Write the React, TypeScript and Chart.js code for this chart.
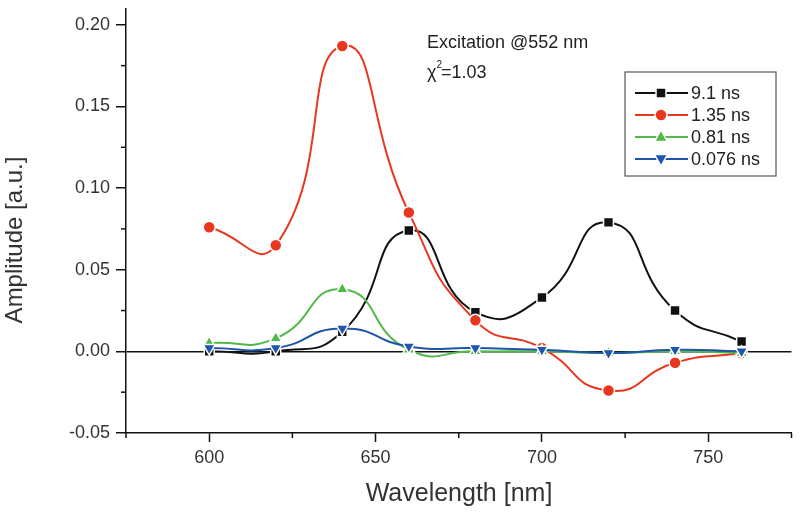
import React, { useEffect, useRef } from 'react';
import { Chart, registerables } from 'chart.js';

Chart.register(...registerables);

// ---- data ----
const wavelengths = [600, 620, 640, 660, 680, 700, 720, 740, 760];
const amp91 = [0.000, 0.000, 0.012, 0.074, 0.024, 0.033, 0.079, 0.025, 0.006];
const amp135 = [0.076, 0.065, 0.187, 0.085, 0.019, 0.002, -0.024, -0.007, -0.001];
const amp081 = [0.005, 0.008, 0.038, 0.001, 0.000, 0.000, -0.001, 0.000, -0.001];
const amp0076 = [0.002, 0.002, 0.014, 0.003, 0.002, 0.001, -0.001, 0.001, 0.000];
const seriesLabels = ['9.1 ns', '1.35 ns', '0.81 ns', '0.076 ns'];
const xTickValues = [600, 650, 700, 750];
const yTickValues = [-0.05, 0, 0.05, 0.1, 0.15, 0.2];
const xMinorTicks = [575, 625, 675, 725, 775];
const yMinorTicks = [-0.025, 0.025, 0.075, 0.125, 0.175];
const xTitle = 'Wavelength [nm]';
const yTitle = 'Amplitude [a.u.]';
const annotationLine1 = 'Excitation @552 nm';
const annotationChi = 'χ';
const annotationSup = '2';
const annotationRest = '=1.03';

const FONT = "'Liberation Sans', Arial, sans-serif";
const colors = ['#111111', '#e8361f', '#52b848', '#1f55aa'];
const styles = ['rect', 'circle', 'triangle', 'triangleDown'];

function drawMarker(ctx: CanvasRenderingContext2D, style: string, x: number, y: number, color: string) {
  ctx.save();
  ctx.fillStyle = color;
  ctx.strokeStyle = '#ffffff';
  ctx.lineWidth = 1.5;
  ctx.beginPath();
  if (style === 'rect') {
    ctx.rect(x - 5, y - 5, 10, 10);
  } else if (style === 'circle') {
    ctx.arc(x, y, 6, 0, Math.PI * 2);
  } else if (style === 'triangle') {
    ctx.moveTo(x, y - 7);
    ctx.lineTo(x + 6.5, y + 4.5);
    ctx.lineTo(x - 6.5, y + 4.5);
    ctx.closePath();
  } else {
    ctx.moveTo(x, y + 7);
    ctx.lineTo(x + 6.5, y - 4.5);
    ctx.lineTo(x - 6.5, y - 4.5);
    ctx.closePath();
  }
  ctx.fill();
  ctx.stroke();
  ctx.restore();
}

const overlayPlugin = {
  id: 'overlay',
  afterDraw(chart: any) {
    const ctx: CanvasRenderingContext2D = chart.ctx;
    const xs = chart.scales.x;
    const ys = chart.scales.y;
    const area = chart.chartArea;
    ctx.save();
    // minor ticks
    ctx.strokeStyle = '#111';
    ctx.lineWidth = 1.5;
    xMinorTicks.forEach((v) => {
      const px = xs.getPixelForValue(v);
      ctx.beginPath();
      ctx.moveTo(px, area.bottom);
      ctx.lineTo(px, area.bottom + 5);
      ctx.stroke();
    });
    yMinorTicks.forEach((v) => {
      const py = ys.getPixelForValue(v);
      ctx.beginPath();
      ctx.moveTo(area.left - 5, py);
      ctx.lineTo(area.left, py);
      ctx.stroke();
    });

    // axis titles
    ctx.fillStyle = '#333';
    ctx.textAlign = 'center';
    ctx.textBaseline = 'middle';
    ctx.font = `25px ${FONT}`;
    ctx.fillText(xTitle, 459, 494);
    ctx.save();
    ctx.translate(15, 240);
    ctx.rotate(-Math.PI / 2);
    ctx.font = `24px ${FONT}`;
    ctx.fillText(yTitle, 0, 0);
    ctx.restore();

    // annotation
    ctx.fillStyle = '#222';
    ctx.textAlign = 'left';
    ctx.textBaseline = 'alphabetic';
    ctx.font = `18px ${FONT}`;
    ctx.fillText(annotationLine1, 427, 48);
    let ax = 427;
    ctx.fillText(annotationChi, ax, 78);
    ax += ctx.measureText(annotationChi).width;
    ctx.font = `10px ${FONT}`;
    ctx.fillText(annotationSup, ax, 68);
    ax += ctx.measureText(annotationSup).width - 1;
    ctx.font = `18px ${FONT}`;
    ctx.fillText(annotationRest, ax, 78);

    // legend
    ctx.strokeStyle = '#555';
    ctx.lineWidth = 1.2;
    ctx.strokeRect(625, 72, 151, 104);
    ctx.textBaseline = 'middle';
    ctx.font = `18px ${FONT}`;
    seriesLabels.forEach((lab, i) => {
      const y = 93 + i * 22;
      ctx.strokeStyle = colors[i];
      ctx.lineWidth = 2;
      ctx.beginPath();
      ctx.moveTo(635, y);
      ctx.lineTo(688, y);
      ctx.stroke();
      drawMarker(ctx, styles[i], 661, y, colors[i]);
      ctx.fillStyle = '#222';
      ctx.fillText(lab, 691, y + 1);
    });
    ctx.restore();
  },
};

export default function App() {
  const ref = useRef<HTMLCanvasElement>(null);
  useEffect(() => {
    if (!ref.current) return;
    const mk = (data: number[], i: number, radius: number, order: number) => ({
      label: seriesLabels[i],
      data: wavelengths.map((w, k) => ({ x: w, y: data[k] })),
      borderColor: colors[i],
      backgroundColor: colors[i],
      borderWidth: 2,
      tension: 0.55,
      pointStyle: styles[i] === 'triangleDown' ? 'triangle' : styles[i],
      pointRotation: styles[i] === 'triangleDown' ? 180 : 0,
      pointRadius: radius,
      pointBorderColor: '#ffffff',
      pointBorderWidth: 1.5,
      pointBackgroundColor: colors[i],
      order,
    });
    const chart = new Chart(ref.current, {
      type: 'line',
      data: {
        datasets: [
          mk(amp91, 0, 7, 4),
          mk(amp135, 1, 6, 3),
          mk(amp081, 2, 7, 2),
          mk(amp0076, 3, 7, 1),
        ] as any,
      },
      options: {
        animation: false,
        responsive: false,
        layout: { padding: { left: 0, top: 0, right: 3, bottom: 0 } },
        plugins: { legend: { display: false }, tooltip: { enabled: false } },
        scales: {
          x: {
            type: 'linear',
            min: 575,
            max: 775,
            border: { display: true, color: '#111', width: 1.5 },
            grid: { drawOnChartArea: false, tickLength: 9, tickColor: '#111', tickWidth: 1.5 },
            afterBuildTicks: (s: any) => {
              s.ticks = xTickValues.map((v) => ({ value: v }));
            },
            ticks: {
              color: '#333',
              font: { family: FONT, size: 18 },
              padding: 5,
              callback: (v: any) => String(v),
            },
            afterFit: (s: any) => {
              s.height = 79;
              s.paddingLeft = 0;
              s.paddingRight = 0;
            },
          },
          y: {
            type: 'linear',
            min: -0.05,
            max: 0.21,
            border: { display: true, color: '#111', width: 1.5 },
            grid: {
              drawOnChartArea: true,
              color: (c: any) => (c.tick && Math.abs(c.tick.value) < 1e-9 ? '#111' : 'rgba(0,0,0,0)'),
              lineWidth: 1.5,
              tickLength: 10,
              tickColor: '#111',
              tickWidth: 1.5,
            },
            afterBuildTicks: (s: any) => {
              s.ticks = yTickValues.map((v) => ({ value: v }));
            },
            ticks: {
              color: '#333',
              font: { family: FONT, size: 18 },
              padding: 6,
              callback: (v: any) => Number(v).toFixed(2),
            },
            afterFit: (s: any) => {
              s.width = 126;
              s.paddingTop = 0;
              s.paddingBottom = 0;
            },
          },
        },
      } as any,
      plugins: [overlayPlugin],
    });
    return () => chart.destroy();
  }, []);
  return (
    <div style={{ position: 'absolute', left: 0, top: 0, width: 800, height: 512, background: '#fff' }}>
      <canvas ref={ref} width={800} height={512} />
    </div>
  );
}
